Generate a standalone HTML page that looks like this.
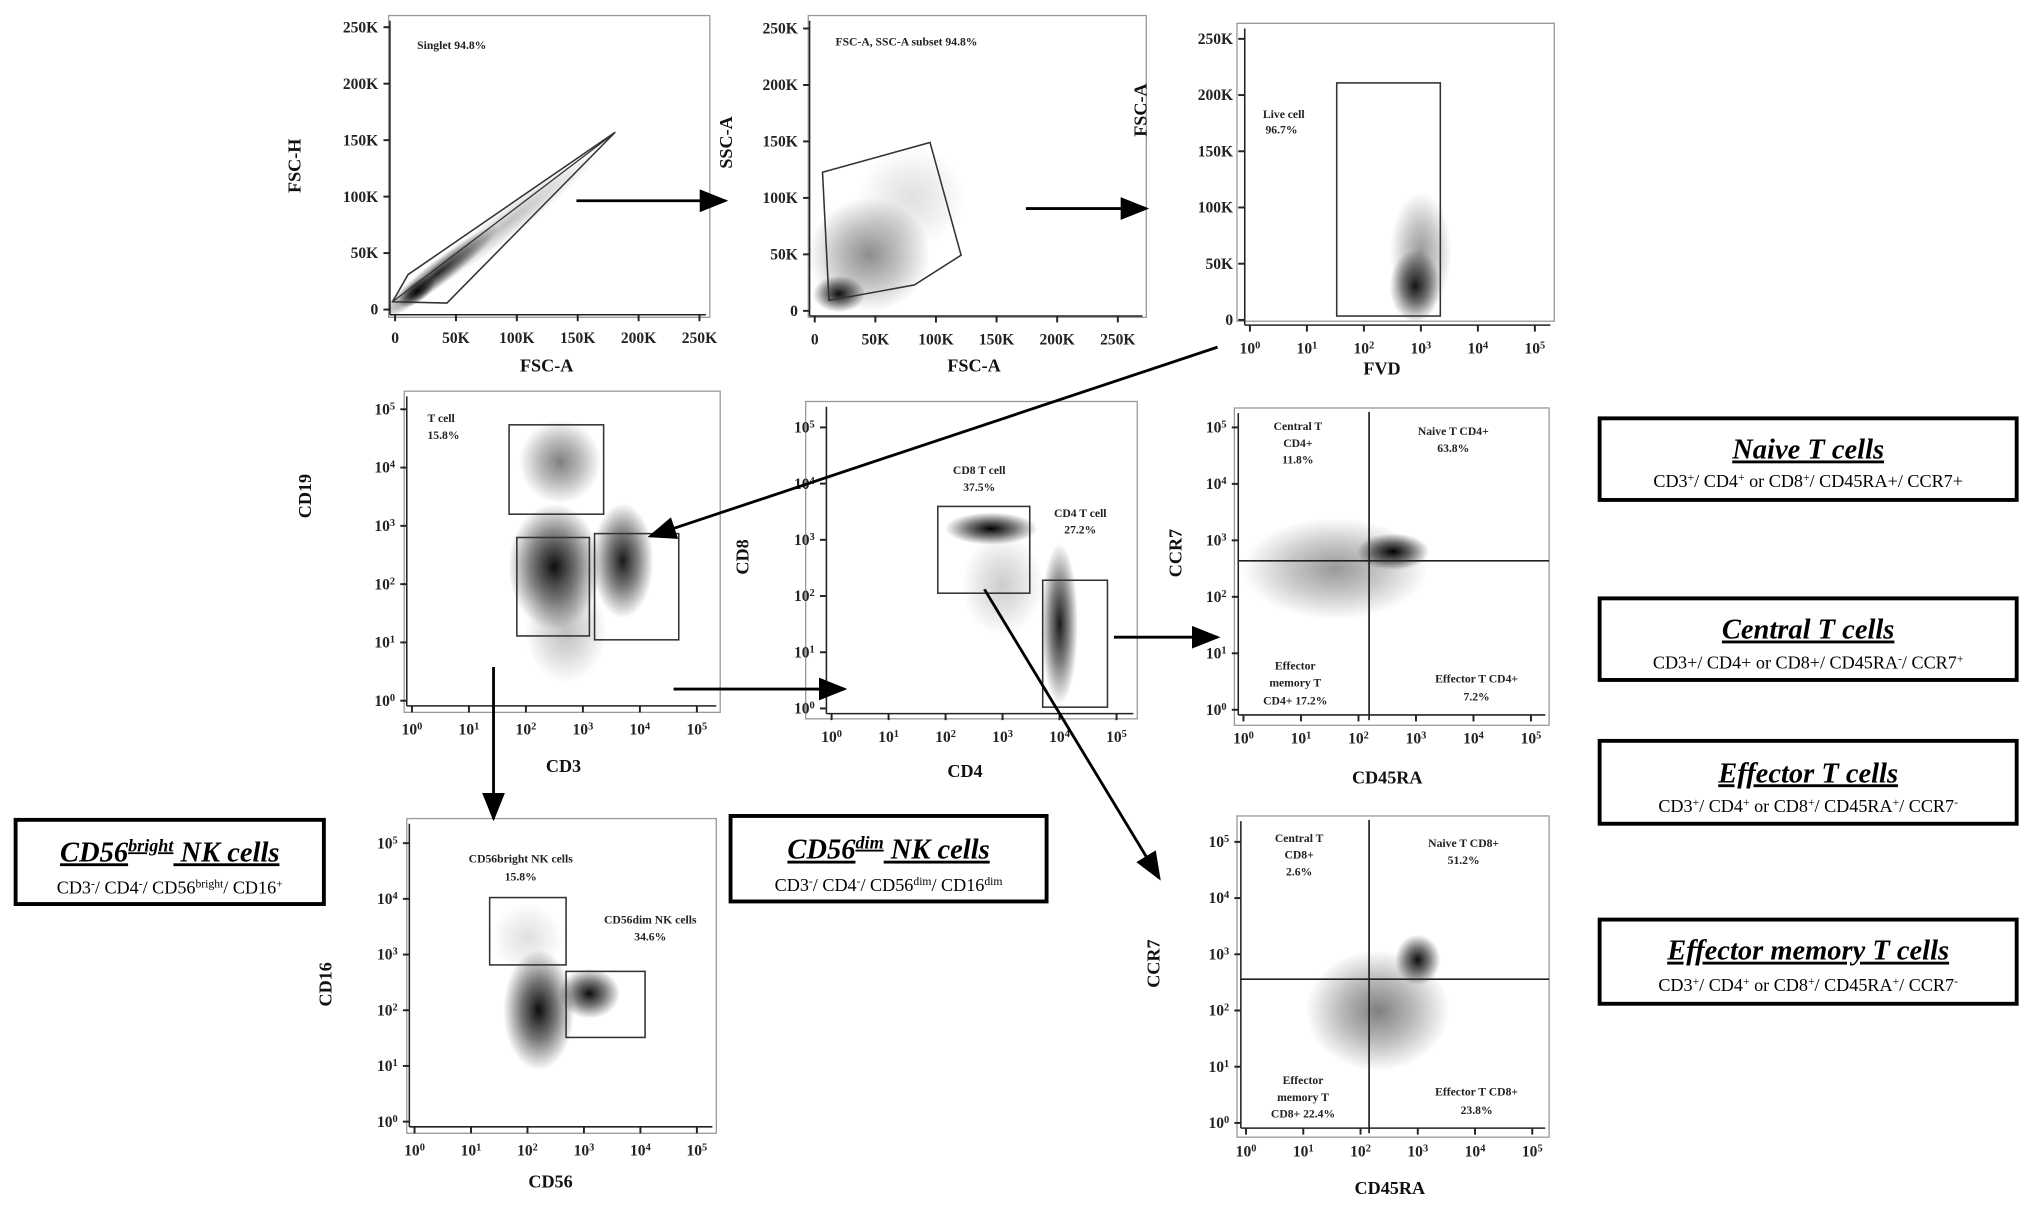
<!DOCTYPE html>
<html><head><meta charset="utf-8"><style>
html,body{margin:0;padding:0;background:#fff;}
svg{display:block;font-family:"Liberation Serif",serif;}
.tk{font-size:12px;font-weight:bold;fill:#222;}
.at{font-size:14px;font-weight:bold;fill:#111;}
.ann{font-size:9px;font-weight:bold;fill:#222;}
.bt{font-size:22px;font-weight:bold;font-style:italic;text-decoration:underline;fill:#000;}
.bs{font-size:14px;fill:#000;}
</style></head><body>
<svg id="fig" width="2031" height="1211" viewBox="0 0 1568 935" xmlns="http://www.w3.org/2000/svg">
<defs>
<marker id="ah" markerWidth="10" markerHeight="8" refX="9" refY="4" orient="auto"><path d="M0,0 L10,4 L0,8 Z" fill="#000"/></marker>
</defs>
<g id="plots"></g>
<g id="overlay">
<polygon points="303,233 315,212 475,102 345,234" fill="none" stroke="#333" stroke-width="1.2"/>
<line x1="303" y1="233" x2="470" y2="106" stroke="#333" stroke-width="1"/>
<polygon points="635,133 718,110 742,197 706,220 640,232" fill="none" stroke="#333" stroke-width="1.2"/>
<rect x="1032" y="64" width="80" height="180" fill="none" stroke="#333" stroke-width="1.2"/>
<rect x="393" y="328" width="73" height="69" fill="none" stroke="#333" stroke-width="1.2"/>
<rect x="399" y="415" width="56" height="76" fill="none" stroke="#333" stroke-width="1.2"/>
<rect x="459" y="412" width="65" height="82" fill="none" stroke="#333" stroke-width="1.2"/>
<rect x="724" y="391" width="71" height="67" fill="none" stroke="#333" stroke-width="1.2"/>
<rect x="805" y="448" width="50" height="98" fill="none" stroke="#333" stroke-width="1.2"/>
<rect x="378" y="693" width="59" height="52" fill="none" stroke="#333" stroke-width="1.2"/>
<rect x="437" y="750" width="61" height="51" fill="none" stroke="#333" stroke-width="1.2"/>
<line x1="1057" y1="318" x2="1057" y2="556" stroke="#222" stroke-width="1.3"/>
<line x1="956" y1="433" x2="1196" y2="433" stroke="#222" stroke-width="1.3"/>
<line x1="1057" y1="633" x2="1057" y2="875" stroke="#222" stroke-width="1.3"/>
<line x1="958" y1="756" x2="1196" y2="756" stroke="#222" stroke-width="1.3"/>
<g stroke="#000" stroke-width="2.2" marker-end="url(#ah)">
<line x1="445" y1="155" x2="560" y2="155"/>
<line x1="792" y1="161" x2="885" y2="161"/>
<line x1="940" y1="268" x2="502" y2="414"/>
<line x1="381" y1="515" x2="381" y2="632"/>
<line x1="520" y1="532" x2="652" y2="532"/>
<line x1="860" y1="492" x2="940" y2="492"/>
<line x1="760" y1="455" x2="895" y2="678"/>
</g>
<g class="ann">
<text x="322" y="38">Singlet 94.8%</text>
<text x="645" y="35">FSC-A, SSC-A subset 94.8%</text>
<text x="975" y="91">Live cell</text><text x="977" y="103">96.7%</text>
<text x="330" y="326">T cell</text><text x="330" y="339">15.8%</text>
<text x="756" y="366" text-anchor="middle">CD8 T cell</text><text x="756" y="379" text-anchor="middle">37.5%</text>
<text x="834" y="399" text-anchor="middle">CD4 T cell</text><text x="834" y="412" text-anchor="middle">27.2%</text>
<text x="1002" y="332" text-anchor="middle">Central T</text><text x="1002" y="345" text-anchor="middle">CD4+</text><text x="1002" y="358" text-anchor="middle">11.8%</text>
<text x="1122" y="336" text-anchor="middle">Naive T CD4+</text><text x="1122" y="349" text-anchor="middle">63.8%</text>
<text x="1000" y="517" text-anchor="middle">Effector</text><text x="1000" y="530" text-anchor="middle">memory T</text><text x="1000" y="544" text-anchor="middle">CD4+ 17.2%</text>
<text x="1140" y="527" text-anchor="middle">Effector T CD4+</text><text x="1140" y="541" text-anchor="middle">7.2%</text>
<text x="402" y="666" text-anchor="middle">CD56bright NK cells</text><text x="402" y="680" text-anchor="middle">15.8%</text>
<text x="502" y="713" text-anchor="middle">CD56dim NK cells</text><text x="502" y="726" text-anchor="middle">34.6%</text>
<text x="1003" y="650" text-anchor="middle">Central T</text><text x="1003" y="663" text-anchor="middle">CD8+</text><text x="1003" y="676" text-anchor="middle">2.6%</text>
<text x="1130" y="654" text-anchor="middle">Naive T CD8+</text><text x="1130" y="667" text-anchor="middle">51.2%</text>
<text x="1006" y="837" text-anchor="middle">Effector</text><text x="1006" y="850" text-anchor="middle">memory T</text><text x="1006" y="863" text-anchor="middle">CD8+ 22.4%</text>
<text x="1140" y="846" text-anchor="middle">Effector T CD8+</text><text x="1140" y="860" text-anchor="middle">23.8%</text>
</g>
</g>
<g>
<rect x="1235" y="323" width="322" height="63" fill="#fff" stroke="#000" stroke-width="3"/>
<text class="bt" x="1396" y="354" text-anchor="middle">Naive T cells</text>
<text class="bs" x="1396" y="376" text-anchor="middle">CD3<tspan baseline-shift="super" font-size="9">+</tspan>/ CD4<tspan baseline-shift="super" font-size="9">+</tspan> or CD8<tspan baseline-shift="super" font-size="9">+</tspan>/ CD45RA+/ CCR7+</text>
</g>
<g>
<rect x="1235" y="462" width="322" height="63" fill="#fff" stroke="#000" stroke-width="3"/>
<text class="bt" x="1396" y="493" text-anchor="middle">Central T cells</text>
<text class="bs" x="1396" y="516" text-anchor="middle">CD3+/ CD4+ or CD8+/ CD45RA<tspan baseline-shift="super" font-size="9">-</tspan>/ CCR7<tspan baseline-shift="super" font-size="9">+</tspan></text>
</g>
<g>
<rect x="1235" y="572" width="322" height="64" fill="#fff" stroke="#000" stroke-width="3"/>
<text class="bt" x="1396" y="604" text-anchor="middle">Effector T cells</text>
<text class="bs" x="1396" y="627" text-anchor="middle">CD3<tspan baseline-shift="super" font-size="9">+</tspan>/ CD4<tspan baseline-shift="super" font-size="9">+</tspan> or CD8<tspan baseline-shift="super" font-size="9">+</tspan>/ CD45RA<tspan baseline-shift="super" font-size="9">+</tspan>/ CCR7<tspan baseline-shift="super" font-size="9">-</tspan></text>
</g>
<g>
<rect x="1235" y="710" width="322" height="65" fill="#fff" stroke="#000" stroke-width="3"/>
<text class="bt" x="1396" y="741" text-anchor="middle">Effector memory T cells</text>
<text class="bs" x="1396" y="765" text-anchor="middle">CD3<tspan baseline-shift="super" font-size="9">+</tspan>/ CD4<tspan baseline-shift="super" font-size="9">+</tspan> or CD8<tspan baseline-shift="super" font-size="9">+</tspan>/ CD45RA<tspan baseline-shift="super" font-size="9">+</tspan>/ CCR7<tspan baseline-shift="super" font-size="9">-</tspan></text>
</g>
<g>
<rect x="12" y="633" width="238" height="65" fill="#fff" stroke="#000" stroke-width="3"/>
<text class="bt" x="131" y="665" text-anchor="middle">CD56<tspan baseline-shift="super" font-size="14">bright</tspan> NK cells</text>
<text class="bs" x="131" y="690" text-anchor="middle">CD3<tspan baseline-shift="super" font-size="9">-</tspan>/ CD4<tspan baseline-shift="super" font-size="9">-</tspan>/ CD56<tspan baseline-shift="super" font-size="9">bright</tspan>/ CD16<tspan baseline-shift="super" font-size="9">+</tspan></text>
</g>
<g>
<rect x="564" y="630" width="244" height="66" fill="#fff" stroke="#000" stroke-width="3"/>
<text class="bt" x="686" y="663" text-anchor="middle">CD56<tspan baseline-shift="super" font-size="14">dim</tspan> NK cells</text>
<text class="bs" x="686" y="688" text-anchor="middle">CD3<tspan baseline-shift="super" font-size="9">-</tspan>/ CD4<tspan baseline-shift="super" font-size="9">-</tspan>/ CD56<tspan baseline-shift="super" font-size="9">dim</tspan>/ CD16<tspan baseline-shift="super" font-size="9">dim</tspan></text>
</g>
</svg>
<script>
const NS="http://www.w3.org/2000/svg";
// tick label arrays
const linTicks=[0,50,100,150,200,250];
const linLabels=["0","50K","100K","150K","200K","250K"];
const logTicks=[0,1,2,3,4,5];
// panel axis titles
const panelNames=["singlet","fsc-ssc","live","cd19-cd3","cd8-cd4","ccr7-cd45ra-cd4","cd16-cd56","ccr7-cd45ra-cd8"];
const xTitles=["FSC-A","FSC-A","FVD","CD3","CD4","CD45RA","CD56","CD45RA"];
const yTitles=["FSC-H","SSC-A","FSC-A","CD19","CD8","CCR7","CD16","CCR7"];
// cell population clusters per panel: [x, y, spreadX, spreadY, rotationDeg, density] in data units
const clusters1=[[35,32,35,6,-38,0.85],[90,75,55,7,-38,0.25],[18,16,10,5,-38,0.95]];
const clusters2=[[20,15,12,9,0,0.95],[45,50,28,28,0,0.45],[80,100,25,25,0,0.12]];
const clusters3=[[2.9,30,0.25,18,0,0.9],[3.0,60,0.3,30,0,0.4]];
const clusters4=[[2.6,4.1,0.4,0.4,0,0.5],[2.5,2.3,0.45,0.6,0,0.95],[3.7,2.4,0.3,0.55,0,0.9],[2.7,1.2,0.4,0.5,0,0.25]];
const clusters5=[[2.8,3.2,0.45,0.16,0,1.0],[4.0,1.5,0.18,0.8,0,0.9],[3.0,2.2,0.4,0.5,0,0.2]];
const clusters6=[[2.6,2.8,0.35,0.18,0,1.0],[1.6,2.5,0.9,0.5,0,0.4]];
const clusters7=[[2.2,2.0,0.35,0.6,0,0.95],[3.1,2.3,0.3,0.25,0,0.95],[2.0,3.3,0.35,0.35,0,0.12]];
const clusters8=[[3.0,2.9,0.22,0.25,0,0.95],[2.3,2.0,0.7,0.6,0,0.5]];
const allClusters=[clusters1,clusters2,clusters3,clusters4,clusters5,clusters6,clusters7,clusters8];
// panel layouts (pixels)
const P=[
 {box:[300,12,548,245],xs:"lin",ys:"lin",xp:[305,540],yp:[239,21],xd:[0,250],yd:[0,250],xt:[422,287],yt:[232,128]},
 {box:[624,12,885,245],xs:"lin",ys:"lin",xp:[629,863],yp:[240,22],xd:[0,250],yd:[0,250],xt:[752,287],yt:[565,110]},
 {box:[955,18,1200,248],xs:"log",ys:"lin",xp:[965,1185],yp:[247,30],xd:[0,5],yd:[0,250],xt:[1067,289],yt:[885,85]},
 {box:[312,302,556,550],xs:"log",ys:"log",xp:[318,538],yp:[541,316],xd:[0,5],yd:[0,5],xt:[435,596],yt:[240,383]},
 {box:[622,310,878,555],xs:"log",ys:"log",xp:[642,862],yp:[547,330],xd:[0,5],yd:[0,5],xt:[745,600],yt:[578,430]},
 {box:[953,315,1196,560],xs:"log",ys:"log",xp:[960,1182],yp:[548,330],xd:[0,5],yd:[0,5],xt:[1071,605],yt:[912,427]},
 {box:[314,632,553,875],xs:"log",ys:"log",xp:[320,538],yp:[866,651],xd:[0,5],yd:[0,5],xt:[425,917],yt:[256,760]},
 {box:[955,630,1196,878],xs:"log",ys:"log",xp:[962,1183],yp:[867,650],xd:[0,5],yd:[0,5],xt:[1073,922],yt:[895,744]}
];
function mk(tag,attrs,parent){const e=document.createElementNS(NS,tag);for(const k in attrs)e.setAttribute(k,attrs[k]);parent.appendChild(e);return e;}
const root=document.getElementById("plots");
const defs=mk("defs",{},root);
P.forEach((p,i)=>{
  const sx=v=>p.xp[0]+(v-p.xd[0])/(p.xd[1]-p.xd[0])*(p.xp[1]-p.xp[0]);
  const sy=v=>p.yp[0]+(v-p.yd[0])/(p.yd[1]-p.yd[0])*(p.yp[1]-p.yp[0]);
  const g=mk("g",{},root);
  
  
  const cp=mk("clipPath",{id:"cp"+i},defs);
  mk("rect",{x:p.box[0],y:p.box[1],width:p.box[2]-p.box[0],height:p.box[3]-p.box[1]},cp);
  const fr=mk("rect",{x:p.box[0],y:p.box[1],width:p.box[2]-p.box[0],height:p.box[3]-p.box[1],fill:"#fff",stroke:"#999","stroke-width":1},g);
  
  
  const cg=mk("g",{"clip-path":"url(#cp"+i+")"},g);
  allClusters[i].forEach((c,j)=>{
    const id="gr"+i+"_"+j;
    const rg=mk("radialGradient",{id:id},defs);
    mk("stop",{offset:"0%","stop-color":"#000","stop-opacity":c[5]},rg);
    mk("stop",{offset:"50%","stop-color":"#000","stop-opacity":c[5]*0.55},rg);
    mk("stop",{offset:"100%","stop-color":"#000","stop-opacity":0},rg);
    const cx=sx(c[0]),cy=sy(c[1]);
    const rx=Math.abs(sx(c[0]+c[2])-cx)*1.8, ry=Math.abs(sy(c[1]+c[3])-cy)*1.8;
    const el=mk("ellipse",{cx:cx,cy:cy,rx:rx,ry:ry,fill:"url(#"+id+")",transform:"rotate("+c[4]+" "+cx+" "+cy+")"},cg);
    
    
  });
  const ax=p.xp[0]-4, ay=p.yp[0]+4;
  mk("line",{x1:ax,y1:p.box[1]+4,x2:ax,y2:ay,stroke:"#222","stroke-width":1.2},g);
  mk("line",{x1:ax,y1:ay,x2:p.box[2]-3,y2:ay,stroke:"#222","stroke-width":1.2},g);
  const xt=p.xs==="lin"?linTicks:logTicks;
  xt.forEach((v,k)=>{
    const x=sx(v);
    mk("line",{x1:x,y1:ay,x2:x,y2:ay+5,stroke:"#222","stroke-width":1.5},g);
    const t=mk("text",{x:x,y:ay+22,"text-anchor":"middle",class:"tk"},g);
    if(p.xs==="lin")t.textContent=linLabels[k];
    else{t.textContent="10";const s=mk("tspan",{"baseline-shift":"super","font-size":"8"},t);s.textContent=String(v);}
    
    
  });
  const yt=p.ys==="lin"?linTicks:logTicks;
  yt.forEach((v,k)=>{
    const y=sy(v);
    mk("line",{x1:ax-5,y1:y,x2:ax,y2:y,stroke:"#222","stroke-width":1.5},g);
    const t=mk("text",{x:ax-9,y:y+4,"text-anchor":"end",class:"tk"},g);
    if(p.ys==="lin")t.textContent=linLabels[k];
    else{t.textContent="10";const s=mk("tspan",{"baseline-shift":"super","font-size":"8"},t);s.textContent=String(v);}
    
    
  });
  const xtl=mk("text",{x:p.xt[0],y:p.xt[1],"text-anchor":"middle",class:"at"},g);
  xtl.textContent=xTitles[i];
  
  
  const ytl=mk("text",{x:p.yt[0],y:p.yt[1],"text-anchor":"middle",class:"at",transform:"rotate(-90 "+p.yt[0]+" "+p.yt[1]+")"},g);
  ytl.textContent=yTitles[i];
  
  
});
</script>
</body></html>
